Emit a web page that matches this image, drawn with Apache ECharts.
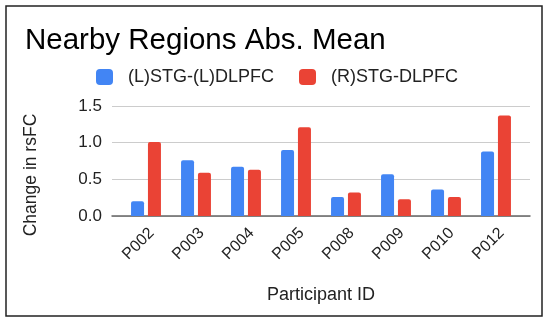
<!DOCTYPE html>
<html><head><meta charset="utf-8">
<script src="https://cdn.jsdelivr.net/npm/echarts@6/dist/echarts.min.js"></script>
<style>html,body{margin:0;padding:0;background:#fff}#c{width:550px;height:323px}</style>
</head><body><div id="c"></div>
<script>
const categories = ['P002','P003','P004','P005','P008','P009','P010','P012'];
const seriesL = [0.20, 0.76, 0.67, 0.90, 0.26, 0.57, 0.36, 0.88];
const seriesR = [1.01, 0.59, 0.63, 1.21, 0.32, 0.23, 0.26, 1.37];
const seriesNames = ['(L)STG-(L)DLPFC', '(R)STG-DLPFC'];
const yTicks = [0, 0.5, 1.0, 1.5];

const chart = echarts.init(document.getElementById('c'), null, {renderer:'canvas'});
const ff = 'Liberation Sans, Arial, sans-serif';
const yMin = yTicks[0], yMax = yTicks[yTicks.length-1], yStep = yTicks[1]-yTicks[0];
chart.setOption({
  animation:false,
  textStyle:{fontFamily:ff},
  graphic:[{type:'rect', shape:{x:6,y:6,width:536,height:310}, style:{fill:'none', stroke:'#222', lineWidth:1.5}, silent:true}],
  title:{text:'Nearby Regions Abs. Mean', left:20, top:21, textStyle:{fontFamily:ff, fontSize:29.5, fontWeight:'normal', color:'#000'}},
  legend:{top:63, left:91, itemWidth:17, itemHeight:16, itemGap:25,
    formatter: n => '  ' + n,
    textStyle:{fontFamily:ff, fontSize:18, color:'#222'},
    data:seriesNames},
  grid:[
    {left:112, right:20, top:106, bottom:107, containLabel:false},
    {left:121, right:29, top:106, bottom:107, containLabel:false}
  ],
  xAxis:[
    {type:'value', gridIndex:0, min:0, max:1, axisLabel:{show:false}, splitLine:{show:false}, axisTick:{show:false},
      axisLine:{show:true, lineStyle:{color:'#666', width:1.5}}},
    {type:'category', gridIndex:1, data:categories, name:'Participant ID', nameLocation:'middle', nameGap:70,
      nameTextStyle:{fontFamily:ff, fontSize:18, color:'#222'},
      axisLine:{show:false}, axisTick:{show:false},
      axisLabel:{rotate:45, fontSize:16, color:'#222', margin:9, verticalAlign:'top'}}
  ],
  yAxis:[
    {type:'value', gridIndex:0, min:yMin, max:yMax, interval:yStep, name:'Change in rsFC', nameLocation:'middle', nameGap:72,
      nameTextStyle:{fontFamily:ff, fontSize:17.5, color:'#222', padding:[0,28,0,0]},
      axisLine:{show:false}, axisTick:{show:false},
      axisLabel:{fontSize:17, color:'#222', margin:10, formatter:v=>v.toFixed(1)},
      splitLine:{lineStyle:{color:'#ccc', width:1}}},
    {type:'value', gridIndex:1, min:yMin, max:yMax, interval:yStep, show:false, splitLine:{show:false}}
  ],
  series:[
    {name:seriesNames[0], type:'bar', xAxisIndex:1, yAxisIndex:1, data:seriesL, barWidth:13, barGap:'30%', itemStyle:{color:'#4285F4', borderRadius:[2,2,0,0]}},
    {name:seriesNames[1], type:'bar', xAxisIndex:1, yAxisIndex:1, data:seriesR, barWidth:13, itemStyle:{color:'#EA4335', borderRadius:[2,2,0,0]}}
  ]
});
</script></body></html>
